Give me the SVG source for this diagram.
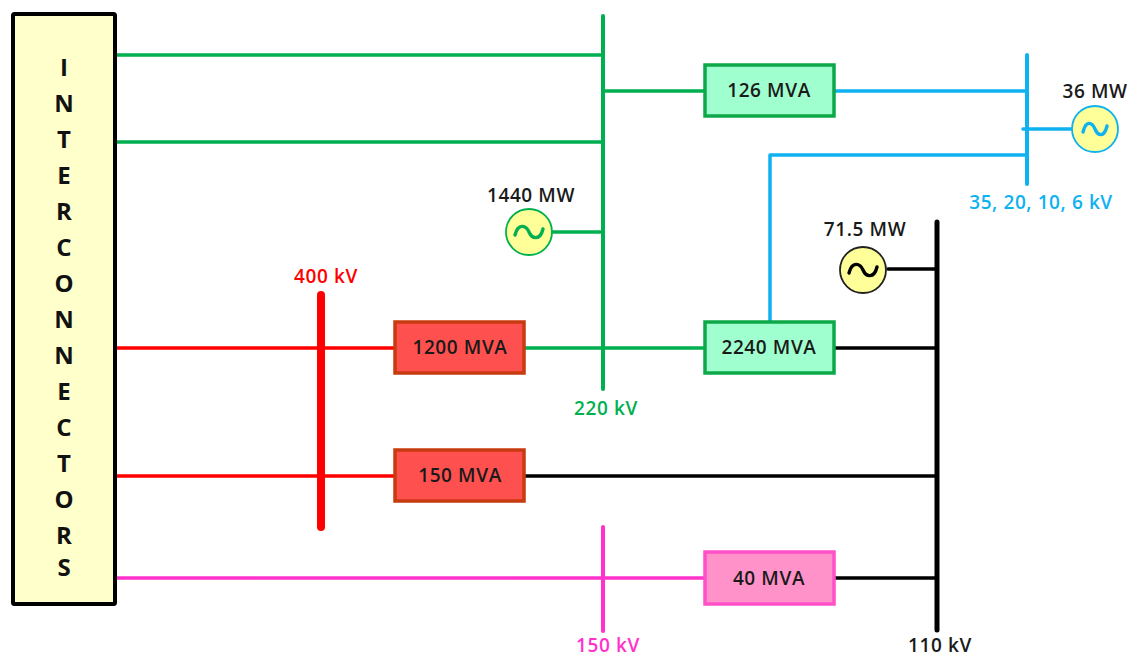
<svg xmlns="http://www.w3.org/2000/svg" width="1132" height="658" viewBox="0 0 1132 658">
<style>
text{font-family:"Open Sans","Noto Sans","Liberation Sans",sans-serif;font-weight:600;text-anchor:middle}
.l{font-size:19px;letter-spacing:.6px;fill:#1a1a1a}
.il{font-size:24px;font-weight:700;fill:#111}
.c{fill:none;stroke-width:3.5;stroke-linecap:round;stroke-linejoin:round}
.g{stroke:#00b050}.r{stroke:#ff0000}.b{stroke:#000}.m{stroke:#ff33cc}.u{stroke:#0fb2f0}
.box{stroke-width:3.5}
.bg{fill:#a0ffce;stroke:#0da848}.br{fill:#ff5050;stroke:#c83a10}.bm{fill:#ff93c9;stroke:#ff50c8}
.gen{fill:#ffff99;stroke-width:1.8}
.sine{fill:none;stroke-width:3.4;stroke-linecap:round}
</style>
<g id="connectors">
<path class="c g" d="M115 55H603M115 142H603M603 91H705M553 232H603M525 348H705"/>
<path class="c g" style="stroke-width:4" d="M603 16V389"/>
<path class="c r" d="M115 348H395M115 476H395"/>
<path class="c r" style="stroke-width:8" d="M321 295V527"/>
<path class="c m" d="M115 578H705"/>
<path class="c m" style="stroke-width:4" d="M603 527V631"/>
<path class="c b" d="M888 269H937M834 348H937M525 476H937M834 578H937"/>
<path class="c b" style="stroke-width:5" d="M937 222V630"/>
<path class="c u" d="M834 91H1027M770 322V155H1027M1023 129H1073"/>
<path class="c u" style="stroke-width:4" d="M1027 55V184"/>
</g>
<g id="interconnectors">
<rect x="13" y="14" width="102" height="590" rx="1.5" fill="#ffffcc" stroke="#000" stroke-width="4"/>
<text class="il" x="64" y="76">I</text>
<text class="il" x="64" y="112">N</text>
<text class="il" x="64" y="148">T</text>
<text class="il" x="64" y="184">E</text>
<text class="il" x="64" y="220">R</text>
<text class="il" x="64" y="256">C</text>
<text class="il" x="64" y="292">O</text>
<text class="il" x="64" y="328">N</text>
<text class="il" x="64" y="364">N</text>
<text class="il" x="64" y="400">E</text>
<text class="il" x="64" y="436">C</text>
<text class="il" x="64" y="472">T</text>
<text class="il" x="64" y="508">O</text>
<text class="il" x="64" y="544">R</text>
<text class="il" x="64" y="576">S</text>
</g>
<g id="t126"><rect class="box bg" x="705" y="65" width="129" height="51"/><text class="l" x="769" y="97">126 MVA</text></g>
<g id="t2240"><rect class="box bg" x="705" y="322" width="129" height="51"/><text class="l" x="769" y="354">2240 MVA</text></g>
<g id="t1200"><rect class="box br" x="395" y="322" width="129" height="51"/><text class="l" x="460" y="354">1200 MVA</text></g>
<g id="t150"><rect class="box br" x="395" y="450" width="129" height="51"/><text class="l" x="460" y="482">150 MVA</text></g>
<g id="t40"><rect class="box bm" x="705" y="552" width="129" height="52"/><text class="l" x="769" y="585">40 MVA</text></g>
<g id="gen1440"><circle class="gen" cx="529" cy="232" r="23" stroke="#00b050"/><path class="sine" stroke="#00b050" d="M515 235C518 223 526 225 529 232S540 241 543 229"/><text class="l" x="531" y="202">1440 MW</text></g>
<g id="gen715"><circle class="gen" cx="863" cy="270" r="23" stroke="#222"/><path class="sine" stroke="#000" d="M849 273C852 261 860 263 863 270S874 279 877 267"/><text class="l" x="865" y="236">71.5 MW</text></g>
<g id="gen36"><circle class="gen" cx="1095" cy="129" r="23" stroke="#0fb2f0"/><path class="sine" stroke="#0fb2f0" d="M1083 132C1086 120 1092 122 1095 129S1104 138 1107 126"/><text class="l" x="1095" y="98">36 MW</text></g>
<g id="labels">
<text class="l" x="326" y="283" style="fill:#ff0000">400 kV</text>
<text class="l" x="606" y="415" style="fill:#00b050">220 kV</text>
<text class="l" x="608" y="652" style="fill:#ff33cc">150 kV</text>
<text class="l" x="940" y="652">110 kV</text>
<text class="l" x="1041" y="209" style="fill:#0fb2f0">35, 20, 10, 6 kV</text>
</g>
</svg>
